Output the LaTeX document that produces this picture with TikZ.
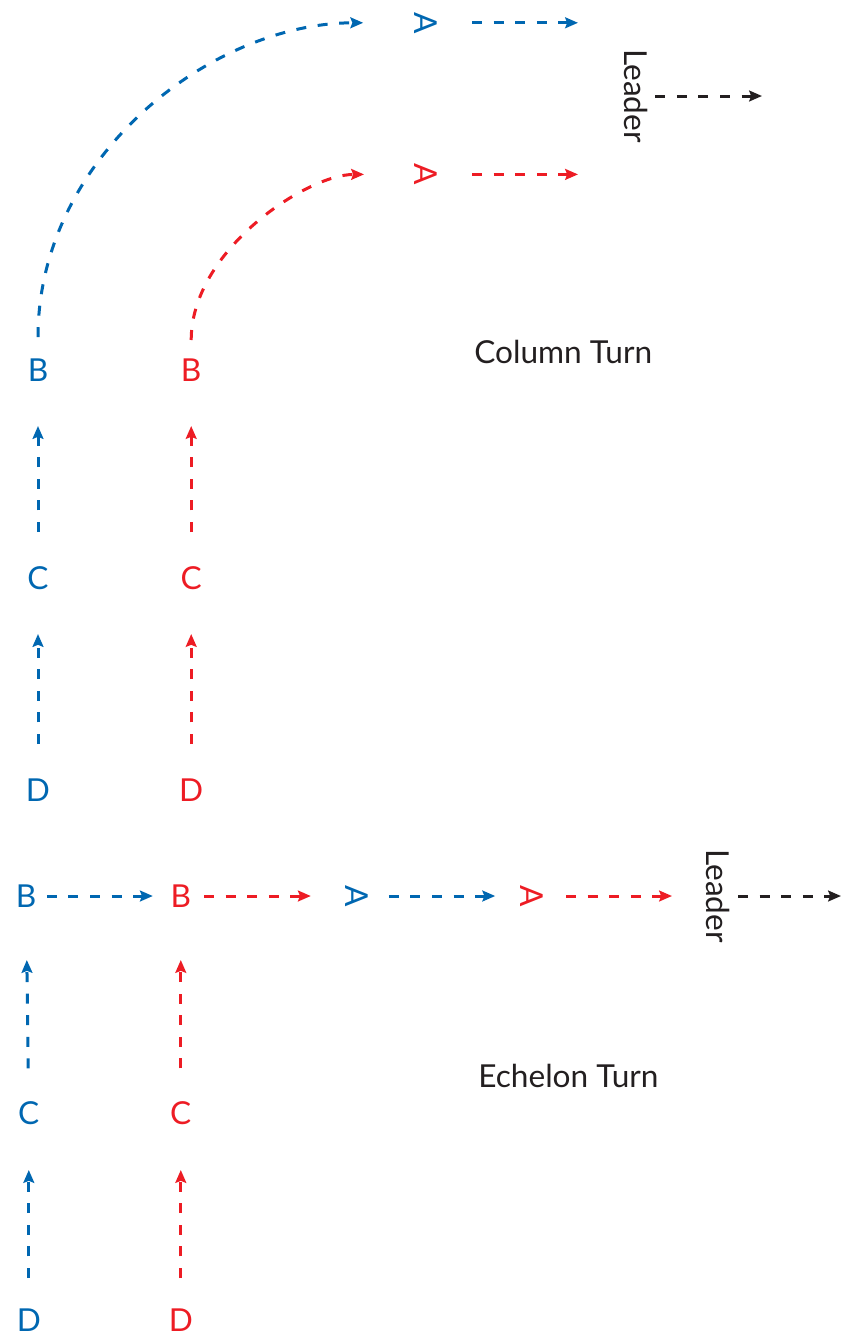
\documentclass[tikz,border=0pt]{standalone}
\usepackage{fontspec}
\setmainfont{Lato}
\usepackage{tikz}
\usepackage{xcolor}
\usetikzlibrary{arrows.meta}

\definecolor{teamblue}{RGB}{0,103,177}
\definecolor{teamred}{RGB}{237,28,36}
\definecolor{notegray}{RGB}{35,31,32}

\begin{document}
\begin{tikzpicture}[
        font=\fontsize{22.5}{27}\selectfont,
        bluecar/.style={text=teamblue, inner sep=0pt},
        redcar/.style={text=teamred, inner sep=0pt},
        note/.style={text=notegray, inner sep=0pt},
        route/.style={line width=0.075cm, dash pattern=on 0.25cm off 0.29cm,
            -{Stealth[length=0.32cm, width=0.27cm, inset=0.05cm]}},
        blueroute/.style={route, teamblue},
        redroute/.style={route, teamred},
        leadroute/.style={route, notegray}
    ]
        \useasboundingbox (0, 0) rectangle (21.025, -33.45);

        \node[bluecar, rotate=-90] (bA1) at (10.64, -0.57) {A};
        \node[redcar, rotate=-90] (rA1) at (10.64, -4.36) {A};
        \node[note, rotate=-90] (lead1) at (15.89, -2.4) {Leader};
        \node[bluecar] (bB1) at (0.95, -9.25) {B};
        \node[redcar] (rB1) at (4.78, -9.25) {B};
        \node[bluecar] (bC1) at (0.95, -14.45) {C};
        \node[redcar] (rC1) at (4.78, -14.45) {C};
        \node[bluecar] (bD1) at (0.95, -19.75) {D};
        \node[redcar] (rD1) at (4.78, -19.75) {D};
        \node[note] (column) at (14.08, -8.8) {Column Turn};
        \coordinate (bA1end) at (14.45, -0.57);
        \coordinate (rA1end) at (14.45, -4.36);
        \coordinate (lead1end) at (19.05, -2.4);

        \node[bluecar] (bB2) at (0.65, -22.4) {B};
        \node[redcar] (rB2) at (4.52, -22.4) {B};
        \node[bluecar, rotate=-90] (bA2) at (8.91, -22.4) {A};
        \node[redcar, rotate=-90] (rA2) at (13.29, -22.4) {A};
        \node[note, rotate=-90] (lead2) at (17.96, -22.4) {Leader};
        \node[bluecar] (bC2) at (0.72, -27.83) {C};
        \node[redcar] (rC2) at (4.52, -27.83) {C};
        \node[bluecar] (bD2) at (0.72, -33.0) {D};
        \node[redcar] (rD2) at (4.52, -33.0) {D};
        \node[note] (echelon) at (14.21, -26.9) {Echelon Turn};
        \coordinate (lead2end) at (21.025, -22.4);

        \draw[blueroute, shorten <=0.82cm, shorten >=1.56cm] (bB1.center) to[out=90, in=180, looseness=1.05] (bA1.center);
        \draw[redroute, shorten <=0.75cm, shorten >=1.54cm] (rB1.center) to[out=90, in=180] (rA1.center);
        \draw[blueroute, shorten <=1.16cm] (bA1.center) -- (bA1end);
        \draw[redroute, shorten <=1.16cm] (rA1.center) -- (rA1end);
        \draw[leadroute, shorten <=0.49cm] (lead1.center) -- (lead1end);
        \draw[blueroute, shorten <=1.15cm, shorten >=1.4cm] (bC1.center) -- (bB1.center);
        \draw[redroute, shorten <=1.15cm, shorten >=1.4cm] (rC1.center) -- (rB1.center);
        \draw[blueroute, shorten <=1.15cm, shorten >=1.4cm] (bD1.center) -- (bC1.center);
        \draw[redroute, shorten <=1.15cm, shorten >=1.4cm] (rD1.center) -- (rC1.center);

        \draw[blueroute, shorten <=0.52cm, shorten >=0.7cm] (bB2.center) -- (rB2.center);
        \draw[redroute, shorten <=0.58cm, shorten >=1.14cm] (rB2.center) -- (bA2.center);
        \draw[blueroute, shorten <=0.81cm, shorten >=0.91cm] (bA2.center) -- (rA2.center);
        \draw[redroute, shorten <=0.86cm, shorten >=1.16cm] (rA2.center) -- (lead2.center);
        \draw[leadroute, shorten <=0.49cm] (lead2.center) -- (lead2end);
        \draw[blueroute, shorten <=1.12cm, shorten >=1.6cm] (bC2.center) -- (bB2.center);
        \draw[redroute, shorten <=1.12cm, shorten >=1.6cm] (rC2.center) -- (rB2.center);
        \draw[blueroute, shorten <=1.05cm, shorten >=1.42cm] (bD2.center) -- (bC2.center);
        \draw[redroute, shorten <=1.05cm, shorten >=1.42cm] (rD2.center) -- (rC2.center);
    \end{tikzpicture}
\end{document}
